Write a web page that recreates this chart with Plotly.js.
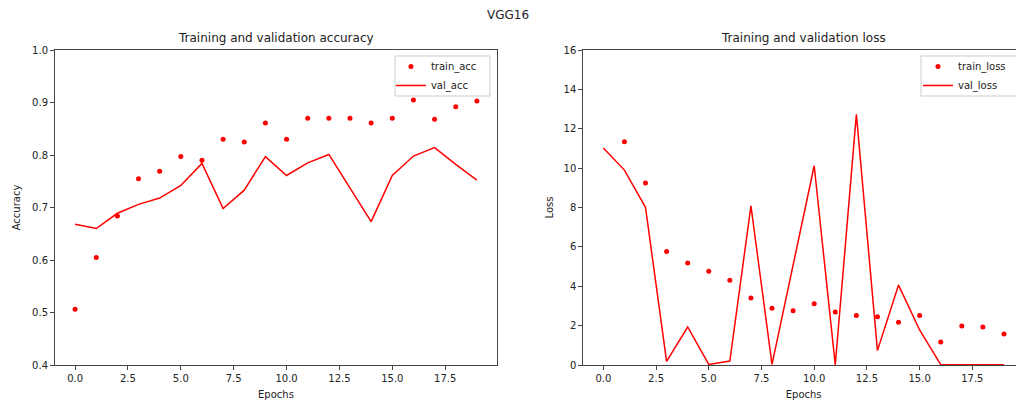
<!DOCTYPE html>
<html>
<head>
<meta charset="utf-8">
<script src="https://cdn.plot.ly/plotly-3.0.1.min.js"></script>
<style>
  html, body { margin: 0; padding: 0; overflow: hidden; background: #fff; }
  #chart { width: 1040px; height: 403px; }
</style>
</head>
<body>
<div id="chart"></div>
<script>
// ---- data ----
const epochs = [0,1,2,3,4,5,6,7,8,9,10,11,12,13,14,15,16,17,18,19];

const trainAcc = [0.506,0.605,0.684,0.755,0.769,0.797,0.790,0.830,0.825,0.861,
                  0.830,0.870,0.870,0.870,0.861,0.870,0.905,0.868,0.892,0.903];
const valAcc   = [0.668,0.660,0.689,0.706,0.718,0.742,0.784,0.698,0.733,0.797,
                  0.761,0.785,0.801,0.738,0.673,0.761,0.798,0.814,0.782,0.752];

// epoch 0 training loss lies above the visible range (clipped in the reference)
const trainLoss = [18.0,11.34,9.24,5.76,5.18,4.76,4.30,3.40,2.88,2.76,
                   3.11,2.69,2.52,2.45,2.17,2.52,1.17,1.98,1.93,1.57];
const valLoss   = [11.02,9.90,8.01,0.18,1.93,0.03,0.20,8.08,0.03,5.05,
                   10.12,0.01,12.73,0.73,4.06,1.78,0.02,0.01,0.01,0.01];

const suptitle = "VGG16";
const titles = ["Training and validation accuracy", "Training and validation loss"];
const xLabel = "Epochs";
const yLabels = ["Accuracy", "Loss"];

// ---- styling ----
const FONT = "DejaVu Sans, sans-serif";
const TXT = "#222";
const RED = "#ff0000";
const SPINE = "#444";

const traces = [
  {x: epochs, y: trainAcc, name: "train_acc", mode: "markers", type: "scatter",
   marker: {color: RED, size: 5}, xaxis: "x", yaxis: "y", legend: "legend"},
  {x: epochs, y: valAcc, name: "val_acc", mode: "lines", type: "scatter",
   line: {color: RED, width: 1.5}, xaxis: "x", yaxis: "y", legend: "legend"},
  {x: epochs, y: trainLoss, name: "train_loss", mode: "markers", type: "scatter",
   marker: {color: RED, size: 5}, xaxis: "x2", yaxis: "y2", legend: "legend2"},
  {x: epochs, y: valLoss, name: "val_loss", mode: "lines", type: "scatter",
   line: {color: RED, width: 1.5}, xaxis: "x2", yaxis: "y2", legend: "legend2"}
];

function xAxis(domain, anchor) {
  return {
    domain: domain, anchor: anchor, range: [-0.95, 19.95],
    tick0: 0, dtick: 2.5, tickformat: ".1f",
    ticks: "outside", ticklen: 4, tickcolor: SPINE, tickwidth: 1,
    showline: true, linecolor: SPINE, linewidth: 1, mirror: true,
    showgrid: false, zeroline: false, automargin: false,
    tickfont: {family: FONT, size: 10, color: TXT},
    title: {text: xLabel, font: {family: FONT, size: 10, color: TXT}, standoff: 7}
  };
}
function yAxis(range, dtick, fmt, anchor, label, standoff) {
  return {
    domain: [0, 1], anchor: anchor, range: range,
    tick0: 0, dtick: dtick, tickformat: fmt,
    ticks: "outside", ticklen: 4, tickcolor: SPINE, tickwidth: 1,
    showline: true, linecolor: SPINE, linewidth: 1, mirror: true,
    showgrid: false, zeroline: false, automargin: false,
    tickfont: {family: FONT, size: 10, color: TXT},
    title: {text: label, font: {family: FONT, size: 10, color: TXT}, standoff: standoff}
  };
}

const legendStyle = {
  bgcolor: "rgba(0,0,0,0)", borderwidth: 0,
  font: {family: FONT, size: 10, color: TXT},
  xref: "paper", yref: "paper", xanchor: "left", yanchor: "top",
  tracegroupgap: 0, itemwidth: 30
};

// legend frames (matplotlib-style boxes)
function legendBox(x0, x1) {
  return {type: "rect", xref: "paper", yref: "paper", x0: x0, x1: x1, y0: 0.854, y1: 0.981,
          fillcolor: "rgba(255,255,255,0.85)", line: {color: "#cccccc", width: 1}, layer: "above"};
}

const layout = {
  width: 1040, height: 403,
  margin: {l: 55, r: 16, t: 50, b: 38},
  paper_bgcolor: "#fff", plot_bgcolor: "#fff",
  font: {family: FONT, size: 10, color: TXT},
  showlegend: true,
  xaxis: xAxis([0, 0.4561], "y"),
  yaxis: yAxis([0.4, 1.0], 0.1, ".1f", "x", yLabels[0], 9),
  xaxis2: xAxis([0.5452, 1], "y2"),
  yaxis2: yAxis([0, 16], 2, "d", "x2", yLabels[1], 8),
  legend: Object.assign({}, legendStyle, {x: 0.3467, y: 0.9937}),
  legend2: Object.assign({}, legendStyle, {x: 0.8906, y: 0.9937}),
  shapes: [legendBox(0.3509, 0.4489), legendBox(0.8937, 0.9928)],
  annotations: [
    {text: suptitle, xref: "paper", yref: "paper", x: 0.4675, y: 1.111,
     xanchor: "center", yanchor: "middle", showarrow: false,
     font: {family: FONT, size: 12, color: TXT}},
    {text: titles[0], xref: "paper", yref: "paper", x: 0.2281, y: 1.038,
     xanchor: "center", yanchor: "middle", showarrow: false,
     font: {family: FONT, size: 12, color: TXT}},
    {text: titles[1], xref: "paper", yref: "paper", x: 0.7726, y: 1.038,
     xanchor: "center", yanchor: "middle", showarrow: false,
     font: {family: FONT, size: 12, color: TXT}}
  ]
};

Plotly.newPlot("chart", traces, layout, {staticPlot: true, displayModeBar: false});
</script>
</body>
</html>
